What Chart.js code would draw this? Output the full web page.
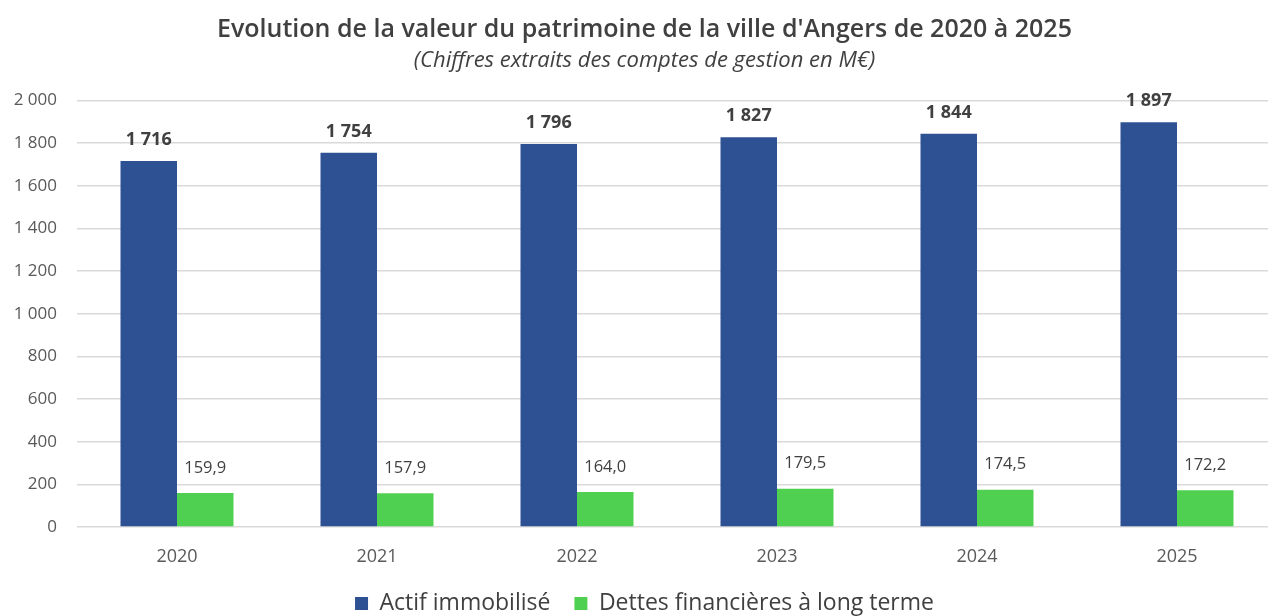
<!DOCTYPE html>
<html>
<head>
<meta charset="utf-8">
<script src="https://cdn.jsdelivr.net/npm/chart.js@4/dist/chart.umd.min.js"></script>
<style>
html,body{margin:0;padding:0;background:#fff;overflow:hidden;width:1268px;height:616px;}
#wrap{position:absolute;left:0;top:0;width:1300px;height:616px;}
</style>
</head>
<body>
<div id="wrap"><canvas id="c" width="1300" height="616"></canvas></div>
<script>
const categories = ['2020','2021','2022','2023','2024','2025'];
const actifImmobilise = [1716, 1754, 1796, 1827, 1844, 1897];
const dettesLongTerme = [159.9, 157.9, 164.0, 179.5, 174.5, 172.2];
const yTicks = [0, 200, 400, 600, 800, 1000, 1200, 1400, 1600, 1800, 2000];
const seriesNames = ['Actif immobilisé', 'Dettes financières à long terme'];
const titleText = "Evolution de la valeur du patrimoine de la ville d'Angers de 2020 à 2025";
const subtitleText = '(Chiffres extraits des comptes de gestion en M€)';

const FONT = "'Open Sans', 'Liberation Sans', sans-serif";

function fmtThousands(v){
  return String(Math.round(v)).replace(/\B(?=(\d{3})+(?!\d))/g, ' ');
}
function fmtDecimal(v){
  return v.toFixed(1).replace('.', ',');
}

const labelPlugin = {
  id: 'valueLabels',
  afterDatasetsDraw(chart){
    const ctx = chart.ctx;
    ctx.save();
    ctx.textAlign = 'center';
    ctx.textBaseline = 'middle';
    chart.data.datasets.forEach((ds, di) => {
      const meta = chart.getDatasetMeta(di);
      meta.data.forEach((bar, i) => {
        const v = ds.data[i];
        if (di === 0) {
          ctx.font = "bold 18px " + FONT;
          ctx.fillStyle = '#404040';
          ctx.fillText(fmtThousands(v), bar.x, bar.y - 21);
        } else {
          ctx.font = "16.5px " + FONT;
          ctx.fillStyle = '#404040';
          ctx.fillText(fmtDecimal(v), bar.x, bar.y - 25);
        }
      });
    });
    ctx.restore();
  }
};

new Chart(document.getElementById('c'), {
  type: 'bar',
  data: {
    labels: categories,
    datasets: [
      { label: seriesNames[0], data: actifImmobilise, backgroundColor: '#2E5193', borderWidth: 0 },
      { label: seriesNames[1], data: dettesLongTerme, backgroundColor: '#50D050', borderWidth: 0 }
    ]
  },
  options: {
    responsive: false,
    animation: false,
    layout: { padding: { left: 12, right: 23, top: 0, bottom: 0 } },
    datasets: { bar: { categoryPercentage: 0.565, barPercentage: 1.0 } },
    scales: {
      x: {
        grid: { display: false, drawTicks: false },
        border: { display: false },
        ticks: { color: '#595959', font: { family: FONT, size: 18 }, padding: 19 },
        afterFit(scale){ scale.height = 41; }
      },
      y: {
        min: 0, max: 2000,
        afterBuildTicks(scale){ scale.ticks = yTicks.map(v => ({ value: v })); },
        grid: { color: '#D9D9D9', lineWidth: 1.5, drawTicks: false },
        border: { display: false },
        ticks: {
          color: '#595959', font: { family: FONT, size: 17 }, padding: 20,
          callback: v => fmtThousands(v)
        },
        afterFit(scale){ scale.width = 65; }
      }
    },
    plugins: {
      title: {
        display: true, text: titleText, color: '#404040',
        font: { family: FONT, size: 25, weight: '600' },
        padding: { top: 15, bottom: 3 }
      },
      subtitle: {
        display: true, text: subtitleText, color: '#404040',
        font: { family: FONT, size: 22, style: 'italic' },
        padding: { bottom: 26 }
      },
      legend: {
        position: 'bottom',
        maxHeight: 48,
        labels: {
          color: '#404040', boxWidth: 13, boxHeight: 13, padding: 24,
          font: { family: FONT, size: 23 }
        }
      },
      tooltip: { enabled: false }
    }
  },
  plugins: [labelPlugin]
});
</script>
</body>
</html>
